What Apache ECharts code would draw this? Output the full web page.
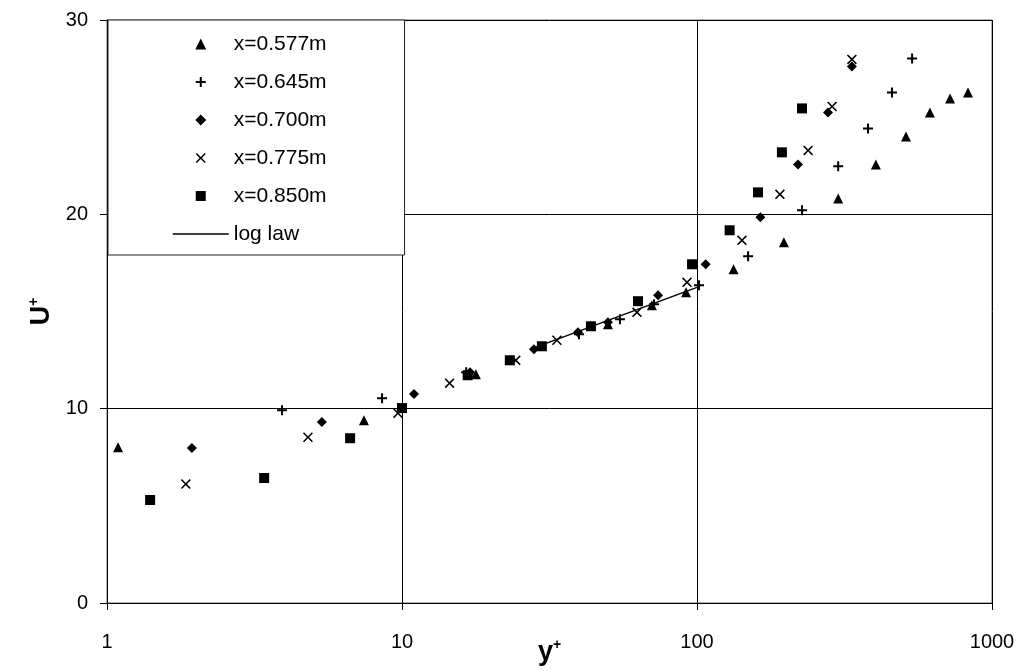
<!DOCTYPE html>
<html><head><meta charset="utf-8">
<script src="https://cdn.jsdelivr.net/npm/echarts@6/dist/echarts.min.js"></script>
<style>html,body{margin:0;padding:0;background:#fff}#c{width:1026px;height:671px}</style>
</head><body><div id="c"></div>
<script>
// y+ , U+ pairs
const s577 = [[1.09,8.02],[7.43,9.41],[17.8,11.77],[49.9,14.34],[70.3,15.32],[91.8,15.99],[133,17.17],[197,18.56],[301,20.82],[404,22.57],[511,24.01],[616,25.24],[721,25.96],[829,26.27]];
const s645 = [[3.92,9.92],[8.56,10.54],[16.5,11.88],[39.8,13.83],[54.8,14.6],[71.5,15.37],[101.6,16.35],[149,17.84],[227,20.21],[301,22.47],[380,24.42],[458,26.27],[536,28.02]];
const s700 = [[1.94,7.97],[5.35,9.31],[10.98,10.75],[17.0,11.88],[28.0,13.06],[39.5,13.93],[49.9,14.45],[73.8,15.84],[107,17.43],[164,19.85],[220,22.57],[278,25.24],[335,27.61]];
const s775 = [[1.85,6.12],[4.8,8.53],[9.69,9.77],[14.5,11.31],[24.3,12.49],[33.5,13.52],[62.6,14.96],[92.5,16.5],[142,18.66],[191,21.03],[238,23.29],[287,25.55],[335,27.97]];
const s850 = [[1.40,5.30],[3.41,6.43],[6.67,8.48],[10.0,10.03],[16.7,11.72],[23.2,12.49],[29.8,13.21],[43.7,14.24],[63.1,15.53],[96.2,17.43],[129,19.18],[161,21.13],[194,23.19],[227,25.45]];
const logLaw = [[28,13.13],[100,16.24]];
const seriesNames = ['x=0.577m','x=0.645m','x=0.700m','x=0.775m','x=0.850m','log law'];

const FONT = '"Liberation Sans", Arial, sans-serif';
const PLUS = 'path://M4,0H6V4H10V6H6V10H4V6H0V4H4Z';
const CROSS = 'path://M0,1.1L1.1,0L5,3.9L8.9,0L10,1.1L6.1,5L10,8.9L8.9,10L5,6.1L1.1,10L0,8.9L3.9,5Z';

// legend icons drawn in a 56x11 box (tiny anchors at both ends keep the shape undistorted)
const ANCH = 'M0,5.5L0.01,5.5L0,5.51Z M56,5.5L55.99,5.5L56,5.49Z ';
const L_TRI = 'path://' + ANCH + 'M28,0L33.5,11L22.5,11Z';
const L_PLUS = 'path://' + ANCH + 'M27,0.5H29V4.5H33V6.5H29V10.5H27V6.5H23V4.5H27Z';
const L_DIA = 'path://' + ANCH + 'M28,0L33.5,5.5L28,11L22.5,5.5Z';
const L_CROSS = 'path://' + ANCH + 'M23,1.6L24.1,0.5L28,4.4L31.9,0.5L33,1.6L29.1,5.5L33,9.4L31.9,10.5L28,6.6L24.1,10.5L23,9.4L26.9,5.5Z';
const L_SQ = 'path://' + ANCH + 'M23,0.5H33V10.5H23Z';

function sc(name, data, symbol, size) {
  return {name, type:'scatter', data, symbol, symbolSize:size, symbolKeepAspect:true,
          itemStyle:{color:'#000', opacity:1}, z:3};
}
const rich = {
  a:{fontSize:27, fontWeight:'bold', color:'#000', fontFamily:FONT, lineHeight:30},
  b:{fontSize:14, fontWeight:'bold', color:'#000', verticalAlign:'top', fontFamily:FONT}
};

const chart = echarts.init(document.getElementById('c'), null, {renderer:'canvas'});
chart.setOption({
  animation:false,
  backgroundColor:'#fff',
  textStyle:{fontFamily:FONT},
  grid:{left:107, right:34, top:20, bottom:68, containLabel:false, outerBoundsMode:'none',
        show:true, borderColor:'#666', borderWidth:1, backgroundColor:'transparent'},
  legend:{
    orient:'vertical', left:108, top:20,
    padding:[12,78,9,64], itemWidth:56, itemHeight:11, itemGap:14,
    backgroundColor:'#fff', borderColor:'#222', borderWidth:1,
    textStyle:{fontSize:21, lineHeight:24, color:'#000', fontFamily:FONT},
    data:[
      {name:seriesNames[0], icon:L_TRI},
      {name:seriesNames[1], icon:L_PLUS},
      {name:seriesNames[2], icon:L_DIA},
      {name:seriesNames[3], icon:L_CROSS},
      {name:seriesNames[4], icon:L_SQ},
      {name:seriesNames[5], itemStyle:{opacity:0}, lineStyle:{color:'#000', width:1.5, opacity:1}}
    ]
  },
  xAxis:{
    type:'log', logBase:10, min:1, max:1000,
    axisLine:{lineStyle:{color:'#000', width:1}},
    axisTick:{show:true, length:7, lineStyle:{color:'#000'}},
    axisLabel:{color:'#000', fontSize:20, margin:29, fontFamily:FONT, formatter:(v)=>String(Math.round(v))},
    splitLine:{show:true, lineStyle:{color:'#000', width:1}},
    minorTick:{show:false},
    name:'{a|y}{b|+}', nameLocation:'middle', nameGap:35, nameMoveOverlap:false,
    nameTextStyle:{rich}
  },
  yAxis:{
    type:'value', min:0, max:30, interval:10,
    axisLine:{show:true, lineStyle:{color:'#000', width:1}},
    axisTick:{show:true, length:7, lineStyle:{color:'#000'}},
    axisLabel:{color:'#000', fontSize:20, margin:19, fontFamily:FONT},
    splitLine:{show:true, lineStyle:{color:'#000', width:1}},
    name:'{a|U}{b|+}', nameLocation:'middle', nameGap:50, nameRotate:90, nameMoveOverlap:false,
    nameTextStyle:{rich}
  },
  series:[
    sc(seriesNames[0], s577, 'triangle', 10),
    sc(seriesNames[1], s645, PLUS, 10),
    sc(seriesNames[2], s700, 'diamond', 10),
    sc(seriesNames[3], s775, CROSS, 10),
    sc(seriesNames[4], s850, 'rect', 10),
    {name:seriesNames[5], type:'line', data:logLaw, symbol:'none', showSymbol:false,
     lineStyle:{color:'#000', width:1.5}, itemStyle:{color:'#000'}, z:2}
  ]
});
</script></body></html>
